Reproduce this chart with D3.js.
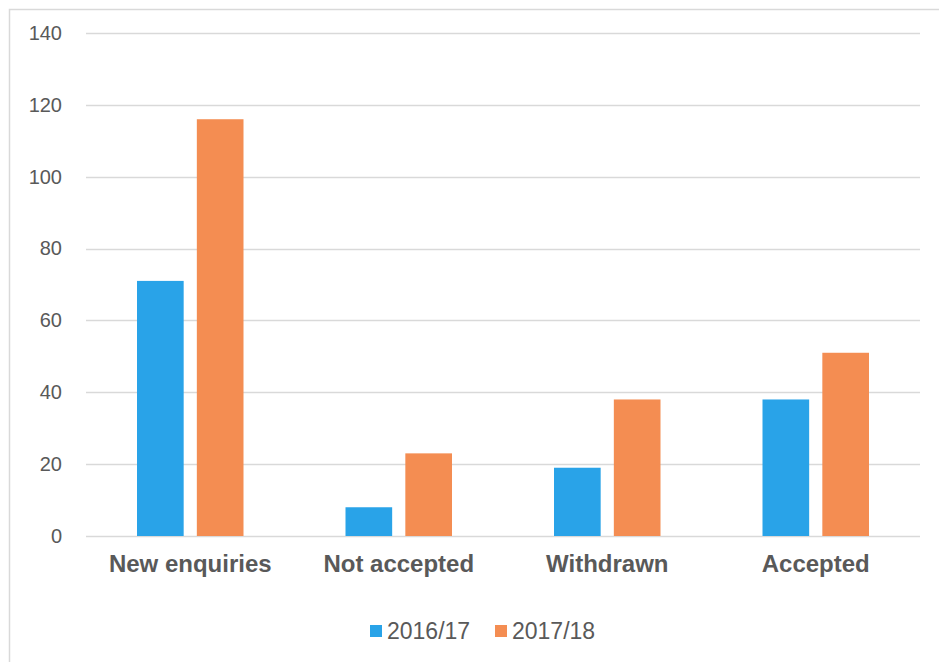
<!DOCTYPE html>
<html>
<head>
<meta charset="utf-8">
<script src="https://cdn.jsdelivr.net/npm/d3@7"></script>
<style>
  html, body { margin: 0; padding: 0; background: #fff; }
  svg { display: block; font-family: "Liberation Sans", Arial, sans-serif; }
</style>
</head>
<body>
<svg id="chart" width="939" height="662"></svg>
<script>
// Enquiry outcomes by year
const categories = ["New enquiries", "Not accepted", "Withdrawn", "Accepted"];
const seriesNames = ["2016/17", "2017/18"];
const values2016 = [71, 8, 19, 38];
const values2017 = [116, 23, 38, 51];
const yTicks = [0, 20, 40, 60, 80, 100, 120, 140];
const colors = ["#29A3E8", "#F48D52"];

const svg = d3.select("#chart");
const W = 939, H = 662;
const margin = { left: 86, right: 19, top: 33, bottom: 126 };
const plotW = W - margin.left - margin.right;
const plotH = H - margin.top - margin.bottom;

// outer chart frame (top and left edges visible)
svg.append("rect")
  .attr("x", 9.5).attr("y", 9.5)
  .attr("width", W + 20).attr("height", H + 20)
  .attr("fill", "#fff").attr("stroke", "#d9d9d9").attr("stroke-width", 1.5);

const g = svg.append("g").attr("transform", `translate(${margin.left},${margin.top})`);

const y = d3.scaleLinear().domain([0, 140]).range([plotH, 0]);
const x0 = d3.scaleBand().domain(categories).range([0, plotW]).paddingInner(0).paddingOuter(0);
const x1 = d3.scaleBand().domain(seriesNames).range([51, x0.bandwidth() - 51]).paddingInner(0.22).paddingOuter(0);

// gridlines
g.append("g").selectAll("line").data(yTicks).join("line")
  .attr("x1", 0).attr("x2", plotW)
  .attr("y1", d => Math.round(y(d)) + 0.5).attr("y2", d => Math.round(y(d)) + 0.5)
  .attr("stroke", "#d9d9d9").attr("stroke-width", 1.5);

// y axis labels
const yAxis = d3.axisLeft(y).tickValues(yTicks).tickSize(0).tickPadding(24);
g.append("g").call(yAxis)
  .call(s => s.select(".domain").remove())
  .selectAll("text")
  .attr("fill", "#595959").attr("font-size", "20px")
  .attr("font-family", "'Liberation Sans', Arial, sans-serif");

// bars
const seriesData = [values2016, values2017];
const grp = g.selectAll(".cat").data(categories).join("g")
  .attr("transform", d => `translate(${x0(d)},0)`);
grp.selectAll("rect").data((c, i) => seriesNames.map((s, k) => ({ s, v: seriesData[k][i], k })))
  .join("rect")
  .attr("x", d => x1(d.s))
  .attr("width", x1.bandwidth())
  .attr("y", d => y(d.v))
  .attr("height", d => y(0) - y(d.v))
  .attr("fill", d => colors[d.k]);

// category labels
const xAxis = d3.axisBottom(x0).tickSize(0).tickPadding(19);
g.append("g").attr("transform", `translate(0,${plotH})`).call(xAxis)
  .call(s => s.select(".domain").remove())
  .selectAll("text")
  .attr("fill", "#595959").attr("font-size", "24px").attr("font-weight", "bold")
  .attr("font-family", "'Liberation Sans', Arial, sans-serif");

// legend
const legend = svg.append("g").attr("transform", "translate(370,625)");
const items = [{ name: seriesNames[0], x: 0 }, { name: seriesNames[1], x: 125 }];
items.forEach((it, i) => {
  legend.append("rect").attr("x", it.x).attr("y", 0).attr("width", 12).attr("height", 12).attr("fill", colors[i]);
  legend.append("text").attr("x", it.x + 17).attr("y", 14)
    .attr("fill", "#595959").attr("font-size", "23px").text(it.name);
});
</script>
</body>
</html>
